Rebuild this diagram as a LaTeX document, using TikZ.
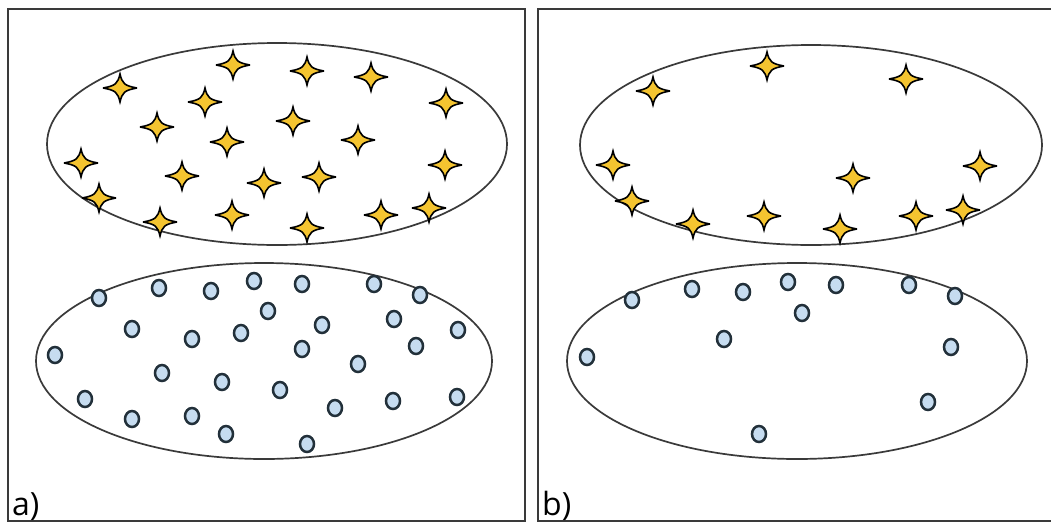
\documentclass[tikz,border=0pt]{standalone}
\usepackage{fontspec}
\setmainfont{Open Sans}
\usetikzlibrary{shapes.geometric}
\definecolor{staryellow}{HTML}{F4C430}
\definecolor{dotblue}{HTML}{C6DCF0}
\definecolor{linegray}{HTML}{3A3A3A}
\definecolor{dotline}{HTML}{22303A}
\tikzset{
  panel/.style={draw=linegray, line width=1.6pt},
  cloud/.style={draw=linegray, line width=1.7pt, fill=white},
  dot/.style={ellipse, draw=dotline, line width=2.5pt, fill=dotblue, minimum width=14pt, minimum height=16pt, inner sep=0pt},
  lbl/.style={font=\fontsize{32}{32}\selectfont, anchor=south west, inner sep=0pt},
  fstar/.pic={
    \path[fill=staryellow, draw=black, line width=1.6pt, line join=miter, miter limit=4]
      (17,0) .. controls (4.5,-2.2) and (2.2,-4.5) .. (0,-14)
      .. controls (-2.2,-4.5) and (-4.5,-2.2) .. (-17,0)
      .. controls (-4.5,2.2) and (-2.2,4.5) .. (0,14)
      .. controls (2.2,4.5) and (4.5,2.2) .. cycle;
    \coordinate (-c) at (0,0);
  }
}
\begin{document}
\begin{tikzpicture}[x=1pt,y=-1pt]
\useasboundingbox (0,0) rectangle (1051,525);
\fill[white] (0,0) rectangle (1051,525);
% panels
\draw[panel] (8,9) rectangle (525,521);
\draw[panel] (538,9) rectangle (1060,521);
% ellipses
\path[cloud] (277,144) ellipse [x radius=230, y radius=101];
\path[cloud] (264,361) ellipse [x radius=228, y radius=98];
\path[cloud] (811,145) ellipse [x radius=231, y radius=100];
\path[cloud] (797,361) ellipse [x radius=230, y radius=98];
% labels
\node[lbl] (la) at (12,521) {a)};
\node[lbl] (lb) at (542,521) {b)};
% stars a
\foreach \x/\y [count=\i] in {233/65,307/71,371/77,120/88,205/102,446/103,157/127,293/121,227/142,358/140,81/163,445/165,182/176,264/183,319/177,99/198,160/222,232/215,307/228,381/215,429/208}
  \pic (sa\i) at (\x,\y) {fstar};
% dots a
\foreach \x/\y [count=\i] in {99/298,159/288,211/291,254/281,302/284,374/284,420/295,268/311,132/329,192/339,241/333,322/325,394/319,458/330,55/355,302/349,416/346,358/364,162/373,222/382,280/390,85/399,457/397,132/419,192/416,335/408,393/401,226/434,307/444}
  \node[dot] (da\i) at (\x,\y) {};
% stars b
\foreach \x/\y [count=\i] in {767/66,906/79,653/91,613/165,853/178,980/166,632/201,693/224,764/216,840/229,916/216,963/210}
  \pic (sb\i) at (\x,\y) {fstar};
% dots b
\foreach \x/\y [count=\i] in {632/300,692/289,743/292,788/282,836/285,909/285,955/296,802/313,724/339,587/357,951/347,928/402,759/434}
  \node[dot] (db\i) at (\x,\y) {};
\end{tikzpicture}
\end{document}
